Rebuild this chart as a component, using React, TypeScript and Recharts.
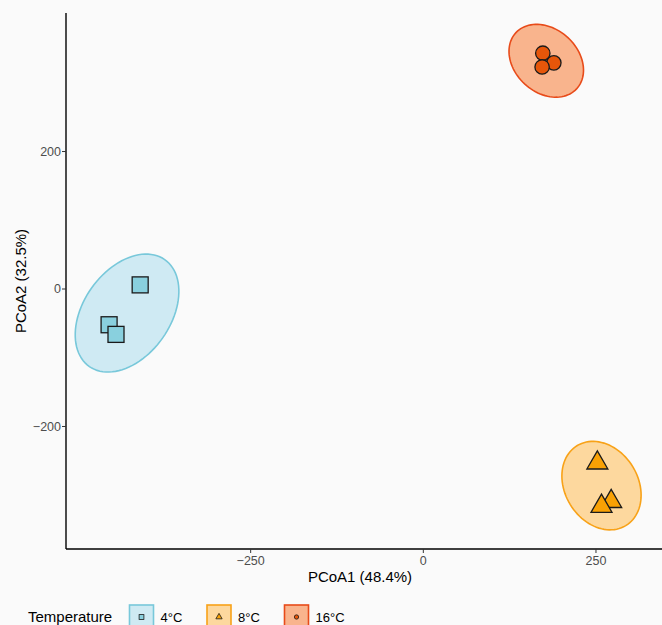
import React from 'react';
import { ScatterChart, Scatter, XAxis, YAxis, Legend } from 'recharts';

// Temperature groups and their styling
const groups = ['4°C', '8°C', '16°C'];
const markerShapes = ['square', 'triangle', 'circle'];
const pointColors = ['#89d0de', '#f9a104', '#e6560a'];
const ellipseFills = ['#cfeaf3', '#fdd89e', '#f9b48d'];
const ellipseStrokes = ['#78c8da', '#f8a218', '#e84b1a'];

// PCoA scores per sample
const pcoa1_4C = [-410, -455, -445];
const pcoa2_4C = [6, -52, -66];
const pcoa1_8C = [252, 272, 258];
const pcoa2_8C = [-253, -309, -316];
const pcoa1_16C = [173, 189, 172];
const pcoa2_16C = [343, 329, 323];

// Confidence ellipses: centre x, centre y, semi-major, semi-minor, rotation (deg)
const ellipse4C = [-429, -35, 95, 63, 55];
const ellipse8C = [258, -286, 68, 53, -59];
const ellipse16C = [178, 332, 60, 46, -43];

const xTicks = [-250, 0, 250];
const yTicks = [-200, 0, 200];
const xTitle = 'PCoA1 (48.4%)';
const yTitle = 'PCoA2 (32.5%)';
const legendTitle = 'Temperature';

const FONT = '"Liberation Sans", Arial, Helvetica, sans-serif';

const toPoints = (xs: number[], ys: number[]) => xs.map((x, i) => ({ x, y: ys[i] }));

const ellipseOutline = (e: number[]) => {
  const [cx, cy, a, b, deg] = e;
  const th = (deg * Math.PI) / 180;
  const n = 96;
  const pts: { x: number; y: number }[] = [];
  for (let i = 0; i < n; i++) {
    const t = (i / n) * Math.PI * 2;
    pts.push({
      x: cx + a * Math.cos(th) * Math.cos(t) - b * Math.sin(th) * Math.sin(t),
      y: cy + a * Math.sin(th) * Math.cos(t) + b * Math.cos(th) * Math.sin(t),
    });
  }
  return pts;
};

const seriesPoints = [
  toPoints(pcoa1_4C, pcoa2_4C),
  toPoints(pcoa1_8C, pcoa2_8C),
  toPoints(pcoa1_16C, pcoa2_16C),
];
const ellipses = [ellipseOutline(ellipse4C), ellipseOutline(ellipse8C), ellipseOutline(ellipse16C)];

const fmt = (v: number) => (v < 0 ? `\u2212${Math.abs(v)}` : `${v}`);

const Marker = ({ kind, cx, cy, fill, scale = 1, sw = 1.3 }: any) => {
  if (kind === 'square') {
    const s = 16 * scale;
    return <rect x={cx - s / 2} y={cy - s / 2} width={s} height={s} fill={fill} stroke="#1a1a1a" strokeWidth={sw} />;
  }
  if (kind === 'triangle') {
    const side = 21 * scale;
    const h = side * 0.866;
    const d = `M${cx},${cy - (2 * h) / 3} L${cx + side / 2},${cy + h / 3} L${cx - side / 2},${cy + h / 3} Z`;
    return <path d={d} fill={fill} stroke="#1a1a1a" strokeWidth={sw} strokeLinejoin="miter" />;
  }
  return <circle cx={cx} cy={cy} r={7.2 * scale} fill={fill} stroke="#1a1a1a" strokeWidth={sw} />;
};

const ellipseLine = (i: number) => (p: any) => {
  const pts = p.points || [];
  if (!pts.length) return <g />;
  const d = pts.map((q: any, k: number) => `${k ? 'L' : 'M'}${q.x},${q.y}`).join(' ') + ' Z';
  return <path d={d} fill={ellipseFills[i]} stroke={ellipseStrokes[i]} strokeWidth={1.6} />;
};

const XTitle = (props: any) => {
  const vb = props.viewBox || { x: 66, y: 549, width: 596, height: 40 };
  return (
    <text x={vb.x + vb.width / 2 - 4} y={vb.y + 33} textAnchor="middle" fontSize={15} fontFamily={FONT} fill="#000">
      {xTitle}
    </text>
  );
};

const YTitle = (props: any) => {
  const vb = props.viewBox || { x: 0, y: 13, width: 66, height: 536 };
  const cx = vb.x + 20;
  const cy = vb.y + vb.height / 2;
  return (
    <text
      x={cx}
      y={cy}
      transform={`rotate(-90, ${cx}, ${cy})`}
      textAnchor="middle"
      dominantBaseline="central"
      fontSize={15}
      fontFamily={FONT}
      fill="#000"
    >
      {yTitle}
    </text>
  );
};

const LegendContent = () => (
  <svg width={662} height={40} style={{ display: 'block' }}>
    <text x={28} y={24} fontSize={15} fontFamily={FONT} fill="#000">
      {legendTitle}
    </text>
    {groups.map((g, i) => {
      const kx = 129.5 + i * 77.5;
      return (
        <g key={g}>
          <rect x={kx} y={7} width={24} height={24} fill={ellipseFills[i]} stroke={ellipseStrokes[i]} strokeWidth={1.6} />
          <Marker kind={markerShapes[i]} cx={kx + 12} cy={19} fill={pointColors[i]} scale={0.3} sw={0.8} />
          <text x={kx + 31} y={23.5} fontSize={13} fontFamily={FONT} fill="#000">
            {g}
          </text>
        </g>
      );
    })}
  </svg>
);

export default function App() {
  return (
    <div
      style={{
        position: 'fixed',
        left: 0,
        top: 0,
        width: 662,
        height: 625,
        overflow: 'hidden',
        background: '#fafafa',
      }}
    >
      <ScatterChart width={662} height={625} margin={{ top: 13, right: 0, bottom: 36, left: 0 }}>
        <XAxis
          type="number"
          dataKey="x"
          domain={[-517.4, 345.6]}
          allowDataOverflow
          ticks={xTicks}
          interval={0}
          tickFormatter={fmt}
          height={40}
          axisLine={{ stroke: '#000', strokeWidth: 1.4 }}
          tickLine={{ stroke: '#333', strokeWidth: 1 }}
          tickSize={4}
          tickMargin={3}
          tick={{ fill: '#4d4d4d', fontSize: 12.5, fontFamily: FONT }}
          label={XTitle}
        />
        <YAxis
          type="number"
          dataKey="y"
          domain={[-378.2, 401.5]}
          allowDataOverflow
          ticks={yTicks}
          interval={0}
          tickFormatter={fmt}
          width={66}
          axisLine={{ stroke: '#000', strokeWidth: 1.4 }}
          tickLine={{ stroke: '#333', strokeWidth: 1 }}
          tickSize={4}
          tickMargin={1}
          tick={{ fill: '#4d4d4d', fontSize: 12.5, fontFamily: FONT }}
          label={YTitle}
        />
        {ellipses.map((pts, i) => (
          <Scatter
            key={`ellipse-${groups[i]}`}
            data={pts}
            line={ellipseLine(i)}
            lineType="joint"
            shape={() => <g />}
            legendType="none"
            isAnimationActive={false}
          />
        ))}
        {seriesPoints.map((pts, i) => (
          <Scatter
            key={`points-${groups[i]}`}
            name={groups[i]}
            data={pts}
            fill={pointColors[i]}
            shape={(p: any) => <Marker kind={markerShapes[i]} cx={p.cx} cy={p.cy} fill={pointColors[i]} />}
            isAnimationActive={false}
          />
        ))}
        <Legend
          verticalAlign="middle"
          align="center"
          layout="horizontal"
          content={LegendContent}
          wrapperStyle={{ left: 0, top: 598, width: 662, height: 40 }}
        />
      </ScatterChart>
    </div>
  );
}
